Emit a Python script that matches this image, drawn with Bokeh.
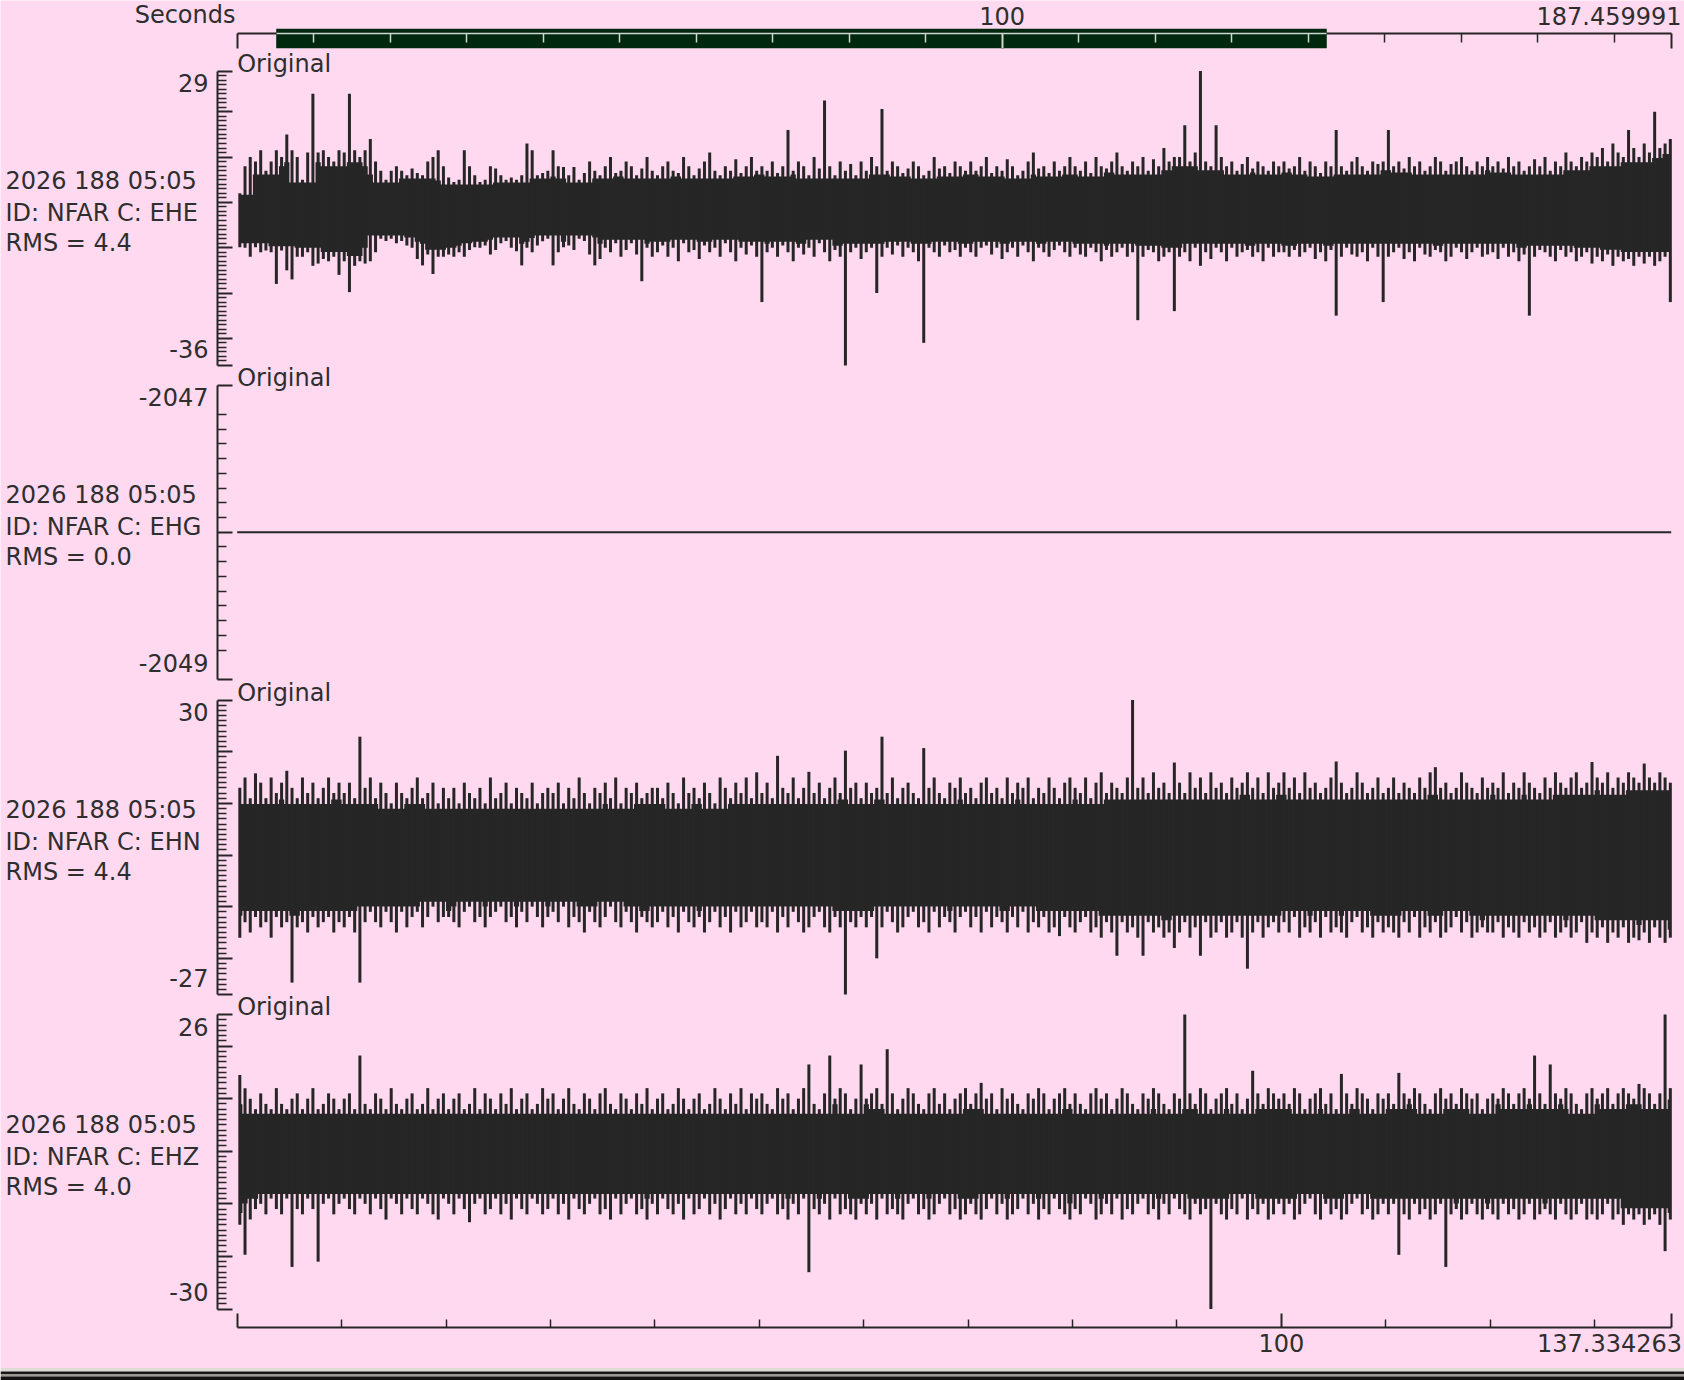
import numpy as np
from numpy.lib.stride_tricks import sliding_window_view
from bokeh.plotting import figure
from bokeh.models import (Range1d, FixedTicker, Label, CustomJSTickFormatter,
                          LinearAxis, BoxAnnotation)
from bokeh.embed import file_html
from bokeh.resources import INLINE

# ------------------------------------------------------------------ data
record_len_s = 187.459991
window_start_s = 5.1
window_len_s = 137.334263
sample_step_s = 0.5
header_time = "2026 188 05:05"
station = "NFAR"
channels = ["EHE", "EHG", "EHN", "EHZ"]
rms_values = [4.4, 0.0, 4.4, 4.0]
y_top_values = [29, -2047, 30, 26]
y_bottom_values = [-36, -2049, -27, -30]
ehg_level = -2048

ehe_hi = [2, 8, 10, 9, 11.5, 7, 9, 11.5, 10, 15, 11.5, 10, 5, 11, 24, 11, 11.5, 10, 9, 11.5,
          11, 24, 11.5, 10, 11.5, 14, 9, 7, 5, 7, 8, 7, 6, 7.5, 6.5, 6, 9, 10, 11.5, 8,
          5.5, 4.5, 5, 11.5, 8, 6, 4.5, 5, 8, 7.5, 6, 5, 5.5, 5, 6, 13, 11.5, 6, 6.5, 7,
          11.5, 8, 7.8, 6, 7.8, 5, 6.5, 9, 7, 6, 8, 10, 6.5, 7, 9, 8, 6, 7.5, 10, 7,
          6, 8, 9, 7, 6.5, 10, 8, 6, 7.5, 9, 11, 7, 6, 8, 7, 9.5, 6.5, 8, 10, 7,
          8, 7, 9, 6.5, 8, 16, 7, 9, 8, 6, 10, 7.5, 22.5, 8, 6, 9, 7, 8.5, 6, 9,
          7, 10, 8, 20.6, 7, 9, 8, 6.5, 7.5, 9, 8, 6, 7, 10, 7.5, 8, 6.5, 9, 8, 7,
          9, 7, 8, 10, 6.5, 8, 7, 9.5, 8, 6, 7, 9, 11, 7.5, 8, 6.5, 9, 7, 8, 10,
          8, 7, 9, 6.5, 10, 8, 7.5, 9, 11, 8, 7, 9, 8, 10, 7, 9.5, 8, 12, 9, 10,
          10, 17, 9, 11, 29, 9, 8, 17, 10, 8, 9, 7, 8.5, 10, 7.5, 9, 8, 7, 9, 8,
          9, 7.5, 8, 10, 7, 9, 8, 6.5, 9, 8, 16, 8, 7, 9, 10, 8, 7, 9, 8.5, 9,
          16, 8, 9, 7.5, 10, 8, 9, 7, 8, 10, 9, 7, 8.5, 9, 10, 8, 7, 9, 8, 10,
          8, 9, 7.5, 10, 8, 9, 7, 8, 9.5, 8, 10, 7, 9, 8, 11, 9, 8, 10, 9, 11,
          10, 12, 9, 13, 11, 10, 16, 12, 10, 13, 11, 20, 12, 13, 14]
ehe_lo = [-9.9, -10, -12, -9.9, -11, -10.6, -11, -18, -10.6, -15, -17, -12, -12, -11, -14, -13.5, -12.5, -13, -12, -16,
          -13, -19.8, -14, -13, -13.5, -13, -11, -8, -8.5, -8, -9, -8.5, -9.5, -10, -12.5, -13.9, -11.5, -15.8, -12, -12,
          -11.5, -12, -11, -12, -10.5, -9.9, -10, -9.5, -11.5, -10.5, -9, -8.5, -10, -10.8, -13.9, -10, -11, -9.5, -8.6, -8,
          -13.9, -11, -9.9, -9.5, -10.5, -8, -8.5, -11.5, -13.9, -12.5, -10, -11, -9, -12, -10.5, -9, -11.5, -17.4, -10, -12,
          -11, -9.5, -12, -10, -13, -9, -11, -10.5, -12.5, -9.5, -11, -10, -12, -9, -11, -13, -10, -11.5, -9.5, -12,
          -22, -11, -10, -12, -9.5, -11, -13, -10, -11.5, -10, -12, -9, -11, -13, -10.5, -12, -36, -11, -10, -12.5,
          -11, -10, -20, -12, -10, -11.5, -9.5, -12, -10, -11, -13, -31, -10, -11, -12, -9.5, -11, -10.5, -12, -10,
          -11, -12, -10, -9.5, -11.5, -10, -12.5, -11, -10, -12, -9.5, -11, -13, -10, -11, -12, -10.5, -9.5, -11, -12,
          -10, -11.5, -12, -10, -11, -13, -10.5, -12, -11, -10, -12, -11, -26, -12, -10.5, -11, -13, -12, -11, -24,
          -12, -11, -13, -10, -14, -11, -12.5, -10, -11, -13, -10, -12, -11, -10.5, -12, -11, -13, -10, -12, -11,
          -11, -12, -10.5, -12, -11, -10, -12.5, -11, -13, -10.5, -25, -12, -10, -11.5, -12, -11, -13, -10, -12, -22,
          -12, -11, -10, -12.5, -11, -13, -10, -11.5, -12, -10.5, -11, -13, -12, -10, -11, -12.5, -11, -10, -12, -11.5,
          -11, -12.5, -10, -12, -11, -13, -11.5, -25, -12, -10.5, -11, -12, -13, -10.5, -12, -11, -13, -12, -11, -13.5,
          -12, -13, -11.5, -14, -12, -13, -12.5, -14, -12, -13.5, -12, -14, -13, -12, -22]

ehn_hi = [13, 15, 11, 15.8, 14, 11, 15, 12, 14, 16.3, 13, 11, 15, 12, 14, 11, 13, 15, 12, 14,
          12, 14, 11, 22.9, 13, 15, 11, 14, 12, 10, 14, 12, 11, 13, 15, 11, 12, 14, 10, 13,
          11, 13, 10, 14, 12, 11, 13, 10, 15, 11, 12, 14, 10, 13, 12, 11, 14, 10, 12, 13,
          12, 14, 10, 13, 11, 15, 12, 10, 13, 12, 14, 11, 15, 10, 13, 12, 14, 11, 12, 13,
          13, 11, 14, 12, 10, 15, 12, 13, 11, 14, 12, 10, 15, 13, 11, 14, 12, 15, 11, 16,
          12, 14, 11, 19.2, 13, 12, 15, 11, 13, 16.1, 12, 14, 11, 13, 15, 12, 20.2, 13, 14, 11,
          14, 12, 13, 22.9, 12, 15, 11, 13, 14, 12, 11, 20.7, 13, 15, 12, 11, 14, 13, 15, 12,
          13, 11, 14, 15, 12, 13, 11, 15, 12, 14, 13, 15, 11, 13, 12, 15, 13, 11, 14, 15,
          13, 12, 15, 11, 14, 16, 12, 14, 13, 12, 15, 30, 13, 15, 12, 16, 13, 14, 12, 17.9,
          14, 12, 16, 13, 15, 12, 16, 13, 14, 12, 15, 13, 14, 16, 13, 15, 12, 16, 13, 14,
          16, 13, 15, 12, 16, 13, 14, 12, 13, 15, 18.1, 14, 12, 13, 16, 14, 12, 13, 15, 12,
          13, 15, 12, 14, 13, 12, 15, 13, 16, 17, 13, 14, 12, 13, 16, 14, 13, 12, 15, 13,
          14, 13, 16, 12, 14, 13, 16, 14, 13, 12, 15, 13, 16, 14, 13, 15, 16, 13, 14, 18,
          15, 14, 16, 13, 15, 14, 16, 15, 14, 17.7, 15, 14, 16, 15, 14]
ehn_lo = [-16, -13, -15, -12, -14, -13, -16, -12, -14, -13, -24.7, -14, -13, -15, -12, -14, -13, -12, -15, -13,
          -14, -12, -15, -24.7, -13, -11, -13, -14, -11, -13, -15, -11, -14, -12, -11, -14, -12, -10, -13, -12,
          -12, -13, -14, -11, -10, -13, -12, -14, -12, -11, -10, -13, -12, -14, -11, -13, -10, -12, -14, -12,
          -11, -13, -10, -14, -12, -13, -15, -11, -13, -14, -12, -10, -13, -14, -11, -13, -15, -12, -13, -14,
          -13, -11, -14, -12, -15, -11, -13, -14, -12, -15, -13, -11, -14, -12, -15, -11, -14, -13, -11, -14,
          -13, -14, -11, -15, -12, -14, -11, -13, -15, -14, -12, -11, -14, -15, -12, -14, -27, -13, -14, -12,
          -14, -12, -20, -14, -11, -13, -15, -14, -12, -11, -14, -13, -15, -11, -14, -12, -13, -15, -12, -11,
          -14, -12, -15, -11, -14, -12, -13, -15, -12, -14, -11, -15, -13, -14, -12, -15, -14, -15.7, -12, -14,
          -15, -13, -12, -15, -14, -16, -13, -15, -19.5, -13, -15, -14, -16, -19.5, -13, -15, -14, -16, -15, -18,
          -15, -13, -16, -14, -19.5, -13, -16, -15, -13, -16, -15, -13, -16, -22, -15, -13, -16, -14, -13, -15,
          -13, -15, -12, -16, -14, -15, -13, -16, -12, -15, -14, -15, -16, -13, -12, -15, -14, -16, -13, -15,
          -14, -15, -16, -13, -15, -12, -16, -14, -15, -13, -16, -15, -14, -12, -15, -13, -16, -15, -14, -15,
          -15, -13, -16, -14, -15, -16, -13, -15, -14, -16, -15, -13, -16, -15, -14, -16, -15, -13, -17, -15,
          -16, -14, -17, -15, -16, -14, -17, -16, -16.5, -15, -17, -14, -16, -17, -16]

ehz_hi = [14.5, 12, 10, 8, 11, 9, 8, 12, 9, 8, 10, 11, 8, 10, 12, 8, 9, 11, 10, 8,
          10, 11, 8, 18.2, 9, 8, 11, 10, 8, 12, 9, 8, 10, 11, 8, 9, 12, 8, 10, 11,
          8, 10, 11, 8, 9, 12, 8, 11, 10, 8, 11, 9, 12, 8, 10, 11, 8, 9, 12, 10,
          11, 8, 10, 12, 9, 8, 11, 10, 8, 11, 12, 9, 8, 11, 10, 8, 11, 9, 12, 8,
          10, 11, 8, 9, 12, 10, 8, 10, 11, 8, 9, 12, 10, 8, 11, 9, 12, 8, 11, 10,
          11, 9, 8, 12, 10, 11, 8, 10, 12, 16.5, 9, 8, 11, 18.2, 10, 12, 11, 8, 10, 16.5,
          10, 11, 12, 9, 19.4, 11, 8, 10, 12, 11, 9, 8, 11, 12, 9, 11, 8, 10, 11, 12,
          9, 11, 13, 10, 11, 8, 12, 10, 11, 9, 8, 11, 10, 12, 11, 8, 10, 11, 12, 9,
          11, 9, 8, 11, 12, 10, 11, 8, 10, 12, 11, 9, 8, 11, 10, 12, 11, 9, 8, 11,
          10, 26, 11, 9, 12, 11, 8, 10, 11, 12, 9, 11, 8, 10, 15.3, 11, 9, 12, 11, 10,
          11, 9, 12, 11, 8, 10, 11, 12, 9, 11, 8, 14.7, 11, 9, 12, 11, 10, 8, 11, 10,
          11, 9, 14.9, 11, 10, 12, 11, 9, 8, 11, 12, 10, 11, 9, 12, 11, 10, 11, 8, 10,
          11, 10, 12, 11, 9, 11, 12, 10, 18.2, 11, 9, 16.5, 11, 10, 12, 11, 9, 8, 11, 12,
          10, 11, 12, 9, 11, 12, 11, 10, 12.8, 12, 11, 9, 11, 26, 12]
ehz_lo = [-14, -19.7, -13, -11, -10, -12, -9, -11, -12, -9, -22, -11, -12, -9, -11, -21, -10, -9, -12, -10,
          -9, -11, -12, -9, -10, -12, -9, -11, -13, -9, -10, -12, -9, -11, -12, -9, -10, -12, -13, -9,
          -10, -12, -9, -11, -13.5, -10, -9, -12, -11, -9, -12, -10, -13, -9, -11, -12, -9, -10, -12, -11,
          -9, -12, -10, -13, -9, -11, -12, -10, -9, -12, -11, -13, -9, -12, -10, -9, -12, -11, -13, -10,
          -12, -9, -11, -12, -10, -13, -9, -12, -11, -9, -12, -10, -13, -11, -9, -12, -10, -12, -9, -11,
          -12, -10, -9, -12, -11, -13, -10, -12, -9, -23, -11, -12, -10, -13, -9, -12, -11, -12, -13, -10,
          -12, -10, -13, -9, -12, -11, -12, -13, -10, -9, -12, -11, -13, -12, -10, -9, -12, -11, -13, -12,
          -10, -12, -13, -11, -9, -12, -10, -13, -12, -11, -9, -12, -10, -13, -11, -12, -9, -11, -12, -13,
          -11, -12, -9, -10, -13, -12, -10, -12, -9, -13, -11, -12, -10, -9, -12, -11, -13, -10, -12, -9,
          -11, -12, -13, -10, -12, -11, -30, -10, -12, -13, -11, -12, -9, -13, -11, -12, -10, -13, -12, -10,
          -12, -10, -13, -12, -10, -9, -12, -13, -10, -12, -11, -13, -12, -10, -9, -12, -11, -13, -12, -10,
          -12, -10, -19.7, -12, -13, -10, -12, -11, -13, -12, -10, -22, -12, -11, -13, -12, -10, -12, -13, -11,
          -12, -13, -10, -12, -11, -13, -12, -10, -13, -12, -11, -12, -13, -10, -12, -13, -12, -10, -13, -12,
          -13, -12, -10, -13, -12, -14, -12, -13, -12, -14, -13, -12, -14, -19, -13]

# ------------------------------------------------------------------ style / layout (pixels)
BG = "#ffd9f0"
INK = "#262626"
TXT = "#2e2e2e"
GREEN = "#00280f"
LIGHT = "#cfd6cf"
FONT = "DejaVu Sans"
FS = "24px"
TXT_DY = -9          # baseline correction for the label rendering

W, H = 1684, 1380
AXIS_X = 216.7                  # x of each channel's value axis
T0_X, T_END_X = 236.7, 1670.7   # time span of the axes
TOP_AXIS_Y = 32.7
BAR_TOP, BAR_BOT = 28.3, 47.7
BOT_AXIS_Y = 1326.7
PANEL_T = [70.5, 384.5, 699.5, 1014.0]
PANEL_H = 294.5
CORE_WIN = 5          # samples over which the always-covered core band is taken
CORE_FRAC = 0.9       # how far the solid core reaches towards that band edge

pps_win = (T_END_X - T0_X) / window_len_s
pps_rec = (T_END_X - T0_X) / record_len_s

p = figure(width=W, height=H, min_border=0,
           x_range=Range1d(0, W), y_range=Range1d(H, 0),
           x_axis_location=None, y_axis_location=None,
           toolbar_location=None, output_backend="svg",
           background_fill_color=BG, border_fill_color=BG, outline_line_color=None)
p.grid.visible = False

p.extra_x_ranges = {
    "win": Range1d(-T0_X / pps_win, (W - T0_X) / pps_win),
    "rec": Range1d(-T0_X / pps_rec, (W - T0_X) / pps_rec),
}
for i in range(4):
    ymax, ymin = y_top_values[i], y_bottom_values[i]
    T, B = PANEL_T[i], PANEL_T[i] + PANEL_H

    def val(c):
        return ymax - (c - T) / (B - T) * (ymax - ymin)
    p.extra_y_ranges["p%d" % i] = Range1d(val(H), val(0))


def style_axis(ax, majors, minors, maj_len, min_len, color=INK, lw=2):
    ax.ticker = FixedTicker(ticks=list(majors), minor_ticks=list(minors))
    ax.formatter = CustomJSTickFormatter(code="return ''")
    ax.major_label_text_font_size = "0px"
    ax.major_label_standoff = 0
    ax.axis_line_color = color
    ax.axis_line_width = lw
    ax.major_tick_line_color = color
    ax.major_tick_line_width = 2
    ax.minor_tick_line_color = color
    ax.minor_tick_line_width = 1.5
    ax.major_tick_in = maj_len
    ax.major_tick_out = 0
    ax.minor_tick_in = min_len
    ax.minor_tick_out = 0


def text(x, y, s, align="left", **kw):
    p.add_layout(Label(x=x, y=y + TXT_DY, text=s, text_font=FONT, text_font_size=FS,
                       text_color=TXT, text_align=align, text_baseline="alphabetic", **kw))


# ---------------- top axis: whole record, with the shown window as a bar
win_end = window_start_s + window_len_s
top_minor = [m for m in range(10, 190, 10) if m != 100]
top_major = [0, 100, record_len_s]
dark = LinearAxis(x_range_name="rec", fixed_location=TOP_AXIS_Y, bounds=(0, record_len_s))
style_axis(dark, top_major, top_minor, 15, 9)
dark.level = "underlay"
p.add_layout(dark, "above")
p.quad(left=[window_start_s], right=[win_end], top=[BAR_TOP], bottom=[BAR_BOT],
       x_range_name="rec", fill_color=GREEN, line_color=None)
light = LinearAxis(x_range_name="rec", fixed_location=TOP_AXIS_Y,
                   bounds=(window_start_s, win_end))
style_axis(light,
           [v for v in top_major if window_start_s < v < win_end],
           [v for v in top_minor if window_start_s < v < win_end],
           15, 9, color=LIGHT, lw=1.5)
p.add_layout(light, "above")
text(235, 23, "Seconds", "right")
text(100, 24, "100", "center", x_range_name="rec")
text(1681, 24, "%.6f" % record_len_s, "right")

# ---------------- channel panels
series = {"EHE": (ehe_hi, ehe_lo), "EHN": (ehn_hi, ehn_lo), "EHZ": (ehz_hi, ehz_lo)}

for i, ch in enumerate(channels):
    ymax, ymin = y_top_values[i], y_bottom_values[i]
    rn = "p%d" % i
    T, B = PANEL_T[i], PANEL_T[i] + PANEL_H
    if ch == "EHG":
        majors = [ymin, ehg_level, ymax]
        minors = [round(ymin + 0.1 * k, 1) for k in range(2, 19) if k != 10]
    else:
        majors = [ymin] + [v for v in range(-40, 41, 10) if ymin < v < ymax] + [ymax]
        minors = [v for v in range(ymin + 1, ymax) if v % 10 != 0]
    ax = LinearAxis(y_range_name=rn, fixed_location=AXIS_X, bounds=(ymin, ymax))
    style_axis(ax, majors, minors, 15, 9)
    p.add_layout(ax, "left")

    if ch == "EHG":
        p.line(x=[0, window_len_s], y=[ehg_level, ehg_level], x_range_name="win",
               y_range_name=rn, line_color=INK, line_width=2)
    else:
        n = min(len(series[ch][0]), len(series[ch][1]))
        hi = np.asarray(series[ch][0][:n], dtype=float)
        lo = np.asarray(series[ch][1][:n], dtype=float)
        tc = np.arange(n) * sample_step_s + sample_step_s / 2
        k = CORE_WIN // 2
        mid = np.median((hi + lo) / 2)
        env_hi = sliding_window_view(np.pad(hi, k, mode="edge"), CORE_WIN).min(axis=1)
        env_lo = sliding_window_view(np.pad(lo, k, mode="edge"), CORE_WIN).max(axis=1)
        core_hi = mid + CORE_FRAC * (env_hi - mid)
        core_lo = mid + CORE_FRAC * (env_lo - mid)
        p.varea_step(x=tc, y1=core_lo, y2=core_hi, step_mode="center",
                     x_range_name="win", y_range_name=rn, fill_color=INK)
        p.segment(x0=tc, y0=lo, x1=tc, y1=hi, x_range_name="win", y_range_name=rn,
                  line_color=INK, line_width=3)

    text(5, T + 119, header_time)
    text(5, T + 151, "ID: %s C: %s" % (station, ch))
    text(5, T + 181, "RMS = %.1f" % rms_values[i])
    text(208, T + 21.3, str(ymax), "right")
    text(208, B - 7.7, str(ymin), "right")
    text(T0_X, T + 1.5, "Original")

# ---------------- bottom axis: seconds of the shown window
bot_minor = [m for m in range(10, 140, 10) if m != 100]
bax = LinearAxis(x_range_name="win", fixed_location=BOT_AXIS_Y, bounds=(0, window_len_s))
style_axis(bax, [0, 100, window_len_s], bot_minor, 14, 8)
p.add_layout(bax, "below")
text(100, 1351.7, "100", "center", x_range_name="win")
text(1681.5, 1351.7, "%.6f" % window_len_s, "right")

# ---------------- window frame edge at the bottom
for top_y, bot_y, col in [(1367.5, 1371, "#dcdcd4"), (1371, 1373.5, "#161616"),
                          (1373.5, 1376, "#9a9a92"), (1376, 1380, "#121212")]:
    p.add_layout(BoxAnnotation(top=top_y, bottom=bot_y, fill_color=col, fill_alpha=1,
                               line_color=None, level="underlay"))

open("out.html", "w").write(file_html(p, INLINE))
